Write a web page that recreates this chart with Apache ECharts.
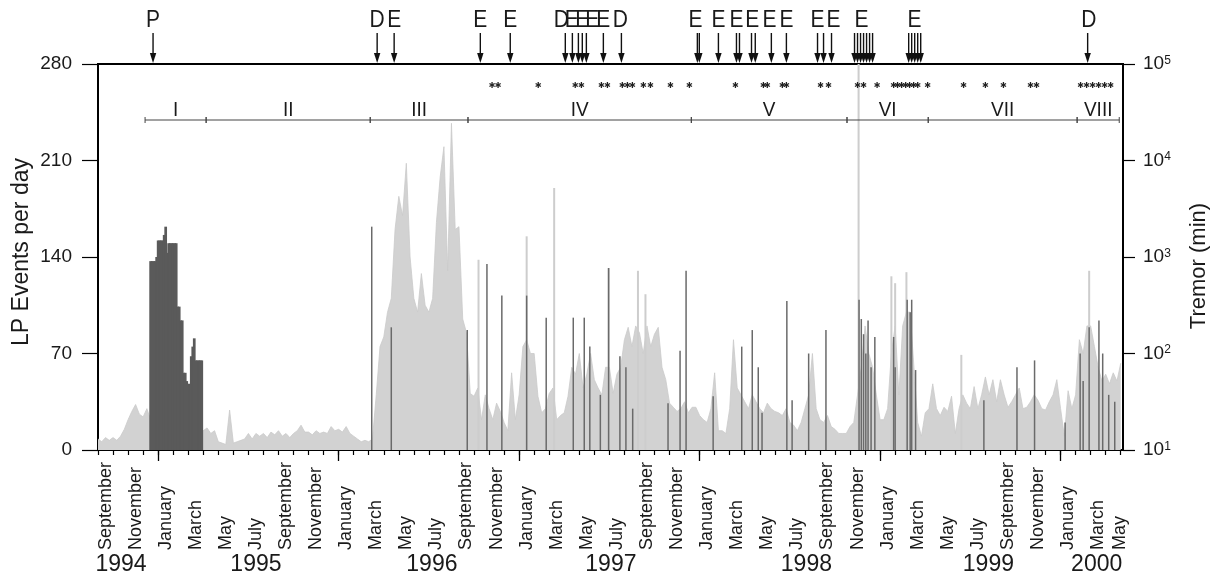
<!DOCTYPE html>
<html><head><meta charset="utf-8">
<script src="https://cdn.jsdelivr.net/npm/echarts@6/dist/echarts.min.js"></script>
<style>html,body{margin:0;padding:0;background:#fff}#c{width:1217px;height:578px}</style>
</head><body><div id="c"></div>
<script>
// x unit: months since 1 September 1994
const X_MAX = 68.15;
const Y_MAX = 280;

const monthLabels = ['September','November','January','March','May','July',
  'September','November','January','March','May','July',
  'September','November','January','March','May','July',
  'September','November','January','March','May','July',
  'September','November','January','March','May','July',
  'September','November','January','March','May'];
const monthLabelPos = [0.55,2.5,4.5,6.5,8.5,10.5,12.5,14.5,16.5,18.5,20.5,22.5,24.5,26.5,28.5,30.5,32.5,34.5,
  36.5,38.5,40.5,42.5,44.5,46.5,48.5,50.5,52.5,54.5,56.5,58.5,60.5,62.5,64.5,66.5,67.95];
const yearLabels = ['1994','1995','1996','1997','1998','1999','2000'];
const yearLabelPos = [1.53,10.5,22.2,34.1,47.1,59.2,66.4];
const yearStarts = [4,16,28,40,52,64];

// light grey series, one value every quarter month from 0
const LIGHT_STEP = 0.25;
const lightValues = [
  8,6,9,7, 9,7,10,15, 22,28,33,26, 24,30,22,27,
  20,20,20,20, 20,20,20,20, 20,20,20,18, 14,16,12,14,
  6,5,4,29, 5,6,7,8, 12,8,12,10, 12,9,13,11,
  14,10,12,9, 12,14,18,13, 13,11,14,12, 13,12,17,14,
  15,13,17,12, 10,8,6,7, 6,8,40,75, 82,100,110,160,
  184,170,208,140, 110,100,128,105, 100,110,165,198, 220,130,237,160,
  162,95,85,41, 39,45,22,40, 30,22,34,28, 20,14,56,22,
  40,75,80,70, 70,39,27,30, 41,45,22,25, 27,39,60,55,
  70,45,55,70, 51,45,40,60, 60,41,55,60, 80,89,75,90,
  85,70,90,75, 84,89,60,51, 34,31,28,30, 35,27,31,31,
  25,22,20,30, 56,14,14,12, 30,80,45,40, 35,30,40,35,
  30,27,34,30, 28,27,25,30, 20,18,14,20, 30,40,70,30,
  22,20,25,17, 15,12,12,12, 17,20,40,60, 90,70,60,40,
  22,22,30,70, 90,40,90,100, 100,60,20,10, 27,30,48,30,
  25,31,28,39, 12,30,40,34, 30,46,30,40, 53,40,51,35,
  51,40,31,35, 40,45,30,31, 35,40,36,30, 29,35,40,51,
  30,10,43,30, 40,80,70,90, 90,75,60,50, 55,48,56,50,
  63
];
const lightSpikeMonths = [25.3,28.5,30.33,33.95,35.9,36.4,50.57,52.75,53.0,53.75,57.4,65.9];
const lightSpikeValues = [138,155,190,132,130,113,280,126,121,129,69,130];

// dark grey: dense block (period I) and isolated spikes
const DARK_BLOCK_STEP = 0.1;
const darkBlockMonths = [3.5,3.6,3.7,3.8,3.9,4.0,4.1,4.2,4.3,4.4,4.5,4.6,4.7,4.8,4.9,5.0,5.1,5.2,5.3,5.4,
  5.5,5.6,5.7,5.8,5.9,6.0,6.1,6.2,6.3,6.4,6.5,6.6,6.7,6.8,6.9];
const darkBlockValues = [137,137,137,137,140,152,152,152,152,156,162,143,150,150,150,150,150,150,104,104,
  94,94,56,56,50,48,48,68,75,81,65,65,65,65,65];
const darkSpikeMonths = [18.2,19.5,24.55,25.86,26.85,28.5,29.8,31.6,32.33,32.7,33.4,33.95,34.7,35.1,35.55,
  37.9,38.7,39.1,40.9,42.8,43.5,43.9,44.15,45.8,46.15,47.25,48.4,
  50.6,50.75,50.9,51.05,51.2,51.4,51.65,52.9,53.0,53.8,54.0,54.1,54.36,
  58.9,61.1,62.27,64.3,65.3,65.5,65.9,66.55,66.8,67.2,67.6];
const darkSpikeValues = [162,89,87,135,112,112,96,96,96,75,40,132,68,60,30,
  34,72,130,39,75,87,60,27,108,36,70,87,
  109,95,84,70,94,60,82,82,60,109,100,109,58,
  36,60,65,20,70,50,89,94,70,40,35];

// annotations
const arrowMonths = [3.66,18.56,19.69,25.42,27.41,31.07,31.54,31.94,32.2,32.47,33.6,34.8,
  39.85,39.98,41.25,42.45,42.65,43.45,43.7,44.77,45.77,47.84,48.24,48.77,
  50.3,50.5,50.7,50.9,51.1,51.3,51.5,53.9,54.1,54.3,54.5,54.7,65.8];
const eventLabelMonths = [3.66,18.56,19.69,25.42,27.41,30.8,31.5,32.2,32.87,33.6,34.73,
  39.72,41.25,42.45,43.5,44.64,45.77,47.84,48.9,50.76,54.29,65.87];
const eventLabels = ['P','D','E','E','E','D','E','E','E','E','D',
  'E','E','E','E','E','E','E','E','E','E','D'];
const starMonths = [26.2,26.6,29.27,31.73,32.14,33.47,33.87,34.86,35.2,35.53,36.26,36.73,38.06,39.32,
  42.38,44.24,44.5,45.5,45.77,48.04,48.57,50.5,50.9,51.8,52.9,53.16,53.43,53.7,53.96,54.23,54.5,
  55.16,57.55,59.0,60.2,62.0,62.4,65.33,65.73,66.13,66.53,66.93,67.33];
const periodBounds = [3.13,7.19,18.1,24.6,39.45,49.8,55.2,65.1,67.9];
const periodLabels = ['I','II','III','IV','V','VI','VII','VIII'];

const FONT = 'Liberation Sans, Arial, Helvetica, sans-serif';
const INK = '#1a1a1a';

const monthTicks = [];
for (let k = 0; k <= Math.floor(X_MAX); k++) monthTicks.push(k);

function barRender(widthFn, color) {
  return function (params, api) {
    const w = widthFn(api);
    const p0 = api.coord([api.value(0), 0]);
    const p1 = api.coord([api.value(0), api.value(1)]);
    return {type: 'rect', shape: {x: p0[0] - w / 2, y: p1[1], width: w, height: p0[1] - p1[1]},
      style: {fill: color}};
  };
}

const chart = echarts.init(document.getElementById('c'));
chart.setOption({
  animation: false,
  backgroundColor: '#fff',
  textStyle: {fontFamily: FONT},
  grid: [
    {left: 98, right: 94, top: 64, bottom: 128, show: true, borderColor: '#000', borderWidth: 2,
      backgroundColor: 'transparent', containLabel: false, outerBoundsMode: 'none'},
    {left: 98, right: 94, top: 64, bottom: 128, containLabel: false, outerBoundsMode: 'none'}
  ],
  xAxis: [
    {type: 'value', gridIndex: 0, min: 0, max: X_MAX, position: 'bottom',
      axisLine: {show: true, lineStyle: {color: '#000', width: 2}},
      axisTick: {show: true, customValues: monthTicks, length: 5, lineStyle: {color: '#000', width: 1.2}},
      axisLabel: {show: true, customValues: monthLabelPos, rotate: 90, align: 'left', verticalAlign: 'middle',
        margin: 100, fontSize: 18, color: INK, fontFamily: FONT,
        formatter: v => monthLabels[monthLabelPos.indexOf(v)] || ''},
      splitLine: {show: false}},
    {type: 'value', gridIndex: 1, min: 0, max: X_MAX, position: 'bottom',
      axisLine: {show: false},
      axisTick: {show: true, customValues: yearStarts, length: 11, lineStyle: {color: '#000', width: 1.3}},
      axisLabel: {show: true, customValues: yearLabelPos, margin: 115, verticalAlign: 'middle',
        fontSize: 23, color: INK, fontFamily: FONT,
        formatter: v => yearLabels[yearLabelPos.indexOf(v)] || ''},
      splitLine: {show: false}}
  ],
  yAxis: [
    {type: 'value', gridIndex: 0, min: 0, max: Y_MAX, interval: 70, position: 'left',
      axisLine: {show: true, lineStyle: {color: '#000', width: 2}},
      axisTick: {show: true, length: 16, lineStyle: {color: '#000', width: 1.2}},
      axisLabel: {fontSize: 19, color: INK, margin: 26, fontFamily: FONT},
      splitLine: {show: false}},
    {type: 'log', gridIndex: 0, logBase: 10, min: 10, max: 100000, position: 'right',
      axisLine: {show: true, lineStyle: {color: '#000', width: 2}},
      axisTick: {show: true, length: 12, lineStyle: {color: '#000', width: 1.2}},
      axisLabel: {margin: 20, formatter: v => '{b|10}{s|' + Math.round(Math.log10(v)) + '}',
        rich: {b: {fontSize: 19, color: INK, fontFamily: FONT, verticalAlign: 'bottom'},
               s: {fontSize: 12, color: INK, fontFamily: FONT, verticalAlign: 'top'}}},
      splitLine: {show: false}, minorTick: {show: false}},
    {type: 'value', gridIndex: 1, min: 0, max: 1, show: false}
  ],
  series: [
    {type: 'line', xAxisIndex: 0, yAxisIndex: 0, showSymbol: false, symbol: 'none', z: 1,
      data: lightValues.map((v, i) => [i * LIGHT_STEP, v]),
      lineStyle: {color: '#cacaca', width: 0.8}, areaStyle: {color: '#d2d2d2', opacity: 1}},
    {type: 'custom', xAxisIndex: 0, yAxisIndex: 0, z: 2, clip: true,
      data: lightSpikeMonths.map((m, i) => [m, lightSpikeValues[i]]),
      renderItem: barRender(() => 2, '#cdcdcd')},
    {type: 'custom', xAxisIndex: 0, yAxisIndex: 0, z: 3, clip: true,
      data: darkBlockMonths.map((m, i) => [m, darkBlockValues[i]]),
      renderItem: barRender(api => api.size([DARK_BLOCK_STEP, 0])[0] * 1.8, '#5a5a5a')},
    {type: 'custom', xAxisIndex: 0, yAxisIndex: 0, z: 3, clip: true,
      data: darkSpikeMonths.map((m, i) => [m, darkSpikeValues[i]]),
      renderItem: barRender(() => 1.5, '#6a6a6a')},
    // arrows above the frame
    {type: 'custom', xAxisIndex: 0, yAxisIndex: 0, z: 6, clip: false,
      data: arrowMonths.map(m => [m, Y_MAX]),
      renderItem: function (params, api) {
        const p = api.coord([api.value(0), Y_MAX]);
        const x = p[0], t = p[1];
        return {type: 'group', children: [
          {type: 'line', shape: {x1: x, y1: t - 31, x2: x, y2: t - 8}, style: {stroke: '#111', lineWidth: 1.4}},
          {type: 'polygon', shape: {points: [[x - 3.2, t - 11], [x + 3.2, t - 11], [x, t - 1]]}, style: {fill: '#111'}}
        ]};
      }},
    // event letters
    {type: 'custom', xAxisIndex: 0, yAxisIndex: 0, z: 6, clip: false,
      data: eventLabelMonths.map((m, i) => [m, i]),
      renderItem: function (params, api) {
        const p = api.coord([api.value(0), Y_MAX]);
        return {type: 'text', x: p[0], y: p[1] - 43, scaleY: 1.12,
          style: {text: eventLabels[api.value(1)], fontSize: 21, fontFamily: FONT, fill: INK,
            align: 'center', verticalAlign: 'middle'}};
      }},
    // stars
    {type: 'custom', xAxisIndex: 0, yAxisIndex: 0, z: 6, clip: false,
      data: starMonths.map(m => [m, Y_MAX]),
      renderItem: function (params, api) {
        const p = api.coord([api.value(0), Y_MAX]);
        const x = p[0], y = p[1] + 21, r = 3;
        const ch = [];
        [90, 30, 150].forEach(a => {
          const dx = r * Math.cos(a * Math.PI / 180), dy = r * Math.sin(a * Math.PI / 180);
          ch.push({type: 'line', shape: {x1: x - dx, y1: y - dy, x2: x + dx, y2: y + dy},
            style: {stroke: '#222', lineWidth: 1.3}});
        });
        return {type: 'group', children: ch};
      }},
    // periods
    {type: 'custom', xAxisIndex: 0, yAxisIndex: 0, z: 6, clip: false,
      data: periodLabels.map((l, i) => [periodBounds[i], periodBounds[i + 1], i]),
      renderItem: function (params, api) {
        const a = api.coord([api.value(0), Y_MAX]);
        const b = api.coord([api.value(1), Y_MAX]);
        const y = a[1] + 56;
        return {type: 'group', children: [
          {type: 'line', shape: {x1: a[0], y1: y, x2: b[0], y2: y}, style: {stroke: '#444', lineWidth: 1}},
          {type: 'line', shape: {x1: a[0], y1: y - 3, x2: a[0], y2: y + 3}, style: {stroke: '#444', lineWidth: 1}},
          {type: 'line', shape: {x1: b[0], y1: y - 3, x2: b[0], y2: y + 3}, style: {stroke: '#444', lineWidth: 1}},
          {type: 'text', x: (a[0] + b[0]) / 2, y: y - 10, scaleY: 1.1,
            style: {text: periodLabels[api.value(2)], fontSize: 19, fontFamily: FONT, fill: INK,
              align: 'center', verticalAlign: 'middle'}}
        ]};
      }}
  ],
  graphic: [
    {type: 'text', x: 22, y: 252, rotation: Math.PI / 2,
      style: {text: 'LP Events per day', fontSize: 23, fontFamily: FONT, fill: INK, align: 'center', verticalAlign: 'middle'}},
    {type: 'text', x: 1199, y: 266, rotation: Math.PI / 2,
      style: {text: 'Tremor (min)', fontSize: 22, fontFamily: FONT, fill: INK, align: 'center', verticalAlign: 'middle'}}
  ]
});
</script></body></html>
